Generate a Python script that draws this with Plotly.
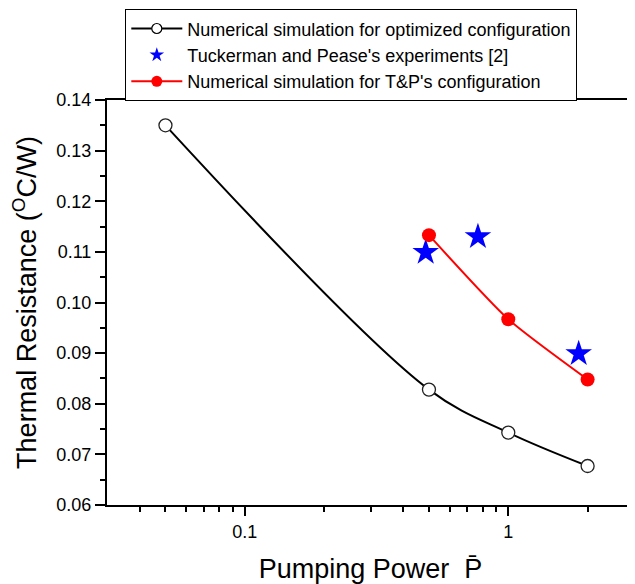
import plotly.graph_objects as go

# Data
opt_x = [0.05, 0.5, 1.0, 2.0]
opt_y = [0.135, 0.0828, 0.0743, 0.0677]
exp_x = [0.486, 0.767, 1.85]
exp_y = [0.1099, 0.1130, 0.0899]
tp_x = [0.5, 1.0, 2.0]
tp_y = [0.1133, 0.0967, 0.0848]

names = ["Numerical simulation for optimized configuration",
         "Tuckerman and Pease's experiments [2]",
         "Numerical simulation for T&P's configuration"]

x_major = [0.1, 1]
x_major_text = ["0.1", "1"]
x_minor = [0.04, 0.05, 0.06, 0.07, 0.08, 0.09, 0.2, 0.3, 0.4, 0.5, 0.6, 0.7, 0.8, 0.9, 2, 3]
y_ticks = [0.06, 0.07, 0.08, 0.09, 0.10, 0.11, 0.12, 0.13, 0.14]

FONT = "Liberation Sans, Arial, sans-serif"

fig = go.Figure()
# data traces
fig.add_trace(go.Scatter(
    x=opt_x, y=opt_y, mode="lines+markers", name=names[0], legendgroup="a", showlegend=False,
    line=dict(color="black", width=2, shape="spline", smoothing=1.0),
    marker=dict(symbol="circle", size=13, color="white", line=dict(color="#222", width=1.3)),
))
fig.add_trace(go.Scatter(
    x=exp_x, y=exp_y, mode="markers", name=names[1], legendgroup="b", showlegend=False,
    marker=dict(symbol="star", size=20, color="#0000ff", line=dict(width=0)),
))
fig.add_trace(go.Scatter(
    x=tp_x, y=tp_y, mode="lines+markers", name=names[2], legendgroup="c", showlegend=False,
    line=dict(color="#ff0000", width=2, shape="spline", smoothing=0.6),
    marker=dict(symbol="circle", size=14, color="#ff0000"),
))
# legend entries (smaller symbols, as in the reference legend)
fig.add_trace(go.Scatter(
    x=[None], y=[None], mode="lines+markers", name=names[0], legendgroup="a",
    line=dict(color="black", width=2),
    marker=dict(symbol="circle", size=10, color="white", line=dict(color="black", width=1.2)),
))
fig.add_trace(go.Scatter(
    x=[None], y=[None], mode="markers", name=names[1], legendgroup="b",
    marker=dict(symbol="star", size=11, color="#0000ff", line=dict(width=0)),
))
fig.add_trace(go.Scatter(
    x=[None], y=[None], mode="lines+markers", name=names[2], legendgroup="c",
    line=dict(color="#ff0000", width=2),
    marker=dict(symbol="circle", size=11, color="#ff0000"),
))

# page body adds an ~8px offset; compensate in margins/size
fig.update_layout(
    width=627, height=576,
    margin=dict(l=99, r=1, t=92, b=79, autoexpand=False),
    paper_bgcolor="white", plot_bgcolor="white",
    font=dict(family=FONT, color="black"),
    showlegend=True,
    legend=dict(
        x=18 / 527, y=1 + 91 / 405, xanchor="left", yanchor="top",
        bordercolor="black", borderwidth=1.3, bgcolor="white",
        font=dict(size=18, family=FONT), tracegroupgap=0,
        itemwidth=51,
    ),
    xaxis=dict(
        type="log", range=[-1.5229, 0.4771],
        tickvals=x_major, ticktext=x_major_text,
        ticks="outside", ticklen=9, tickwidth=1.5, tickcolor="black",
        minor=dict(tickvals=x_minor, ticks="outside", ticklen=5, tickwidth=1.5, tickcolor="black"),
        showline=True, linecolor="black", linewidth=2, mirror=True,
        showgrid=False, zeroline=False,
        tickfont=dict(size=18),
        title=dict(text="Pumping Power  P\u0304", font=dict(size=27), standoff=19),
    ),
    yaxis=dict(
        range=[0.06, 0.14],
        tickvals=y_ticks, tickformat=".2f",
        ticks="outside", ticklen=10, tickwidth=1.5, tickcolor="black",
        minor=dict(dtick=0.005, ticks="outside", ticklen=5, tickwidth=1.5, tickcolor="black"),
        showline=True, linecolor="black", linewidth=2, mirror=True,
        showgrid=False, zeroline=False,
        tickfont=dict(size=18),
        title=dict(text="Thermal Resistance (<sup>O</sup>C/W)", font=dict(size=27), standoff=23),
    ),
)

fig.write_html("out.html")
